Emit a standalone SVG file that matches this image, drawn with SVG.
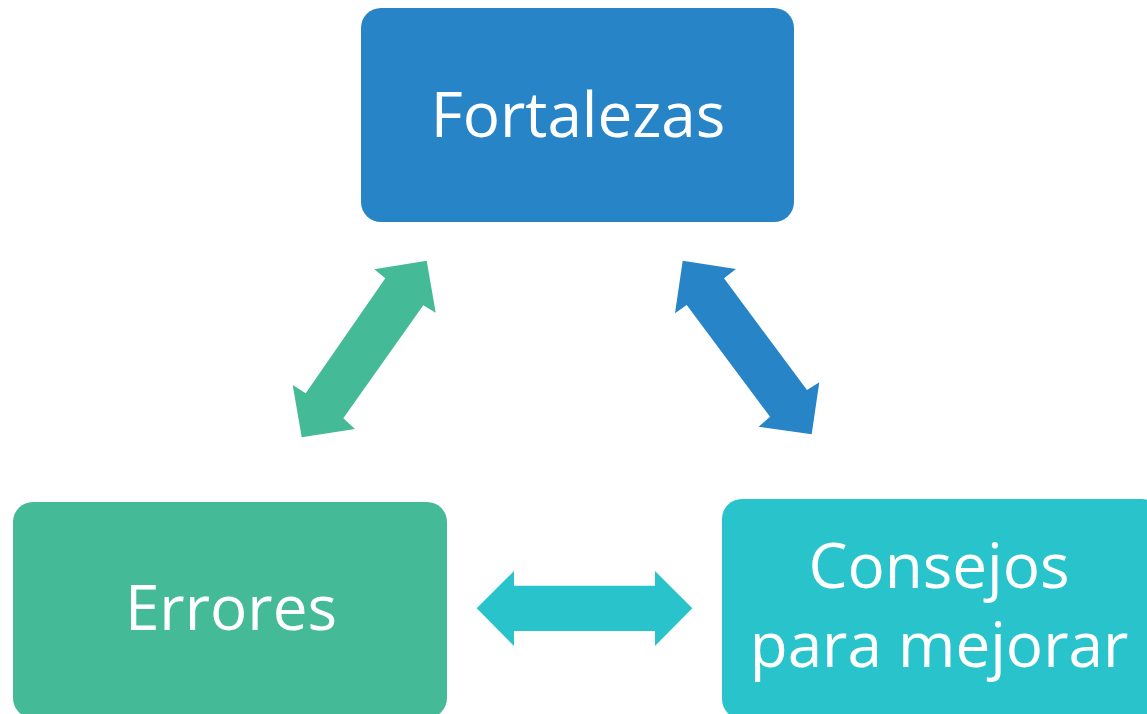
<svg xmlns="http://www.w3.org/2000/svg" width="1147" height="714" viewBox="0 0 1147 714">
<style>
.lbl{font-family:"Open Sans","Noto Sans",sans-serif;fill:#fff;text-anchor:middle;font-size:62px}
</style>
<rect width="1147" height="714" fill="#fff"/>
<g id="connectors">
<polygon fill="#44BA97" points="426.7,260.7 435.7,312.7 423.3,305.3 343.3,418.3 355,429 301.7,437.3 292.7,385 305.7,393.3 385.3,278.3 374.3,269.3"/>
<polygon fill="#2784C7" points="682.7,260.7 736,269 724,278.3 807,390 819.3,382.3 811.7,434.3 758.7,426.7 770,416.7 686.7,305 675,313.3"/>
<polygon fill="#29C4CB" points="476.7,608.3 514,571 514,585.7 655,585.7 655,571 692.3,608.3 655,646 655,631 514,631 514,646"/>
</g>
<g id="fortalezas">
<rect x="361" y="8" width="433" height="214" rx="20" fill="#2784C7"/>
<text class="lbl" x="578" y="137">Fortalezas</text>
</g>
<g id="errores">
<rect x="13" y="502" width="434" height="216" rx="20" fill="#44BA97"/>
<text class="lbl" x="231" y="630">Errores</text>
</g>
<g id="consejos">
<rect x="722" y="499" width="440" height="220" rx="20" fill="#29C4CB"/>
<text class="lbl" x="939" y="588">Consejos</text>
<text class="lbl" x="939" y="667">para mejorar</text>
</g>
</svg>
